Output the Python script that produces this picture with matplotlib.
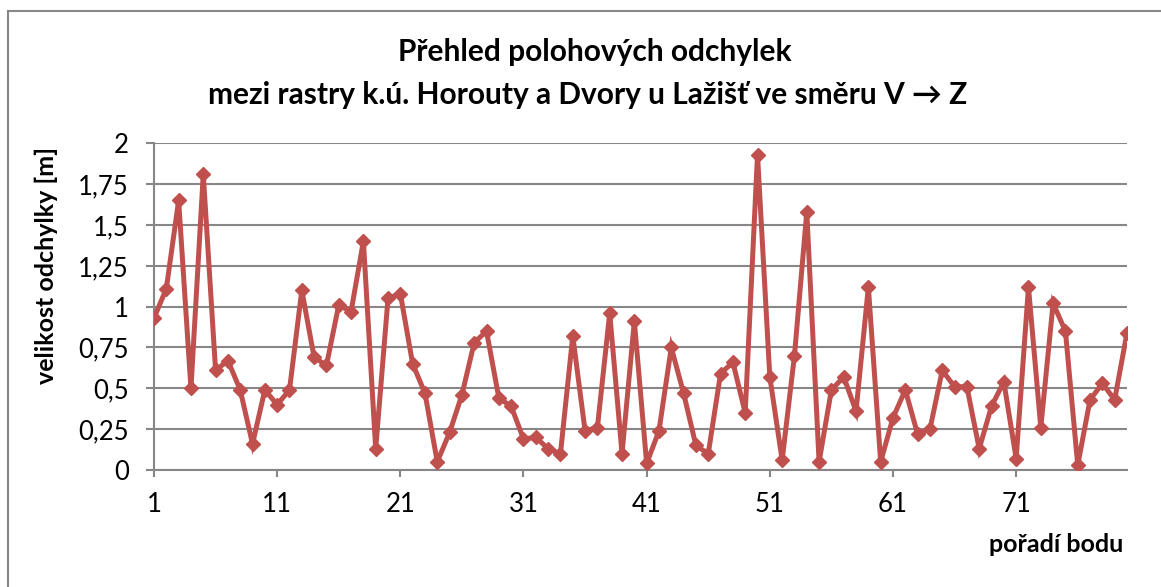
import numpy as np
import matplotlib
matplotlib.use("Agg")
from matplotlib import pyplot as plt
from matplotlib.lines import Line2D

plt.rcParams["font.family"] = ["Lato", "DejaVu Sans"]

# values
odchylky = [
    0.93, 1.11, 1.65, 0.50, 1.81, 0.61, 0.67, 0.49, 0.16, 0.49,
    0.40, 0.49, 1.10, 0.69, 0.64, 1.01, 0.97, 1.40, 0.13, 1.05,
    1.08, 0.65, 0.47, 0.05, 0.23, 0.46, 0.78, 0.85, 0.44, 0.39,
    0.19, 0.20, 0.13, 0.10, 0.82, 0.24, 0.26, 0.96, 0.10, 0.91,
    0.04, 0.24, 0.75, 0.47, 0.15, 0.10, 0.59, 0.66, 0.35, 1.93,
    0.57, 0.06, 0.70, 1.58, 0.05, 0.49, 0.57, 0.36, 1.12, 0.05,
    0.32, 0.49, 0.22, 0.25, 0.61, 0.51, 0.51, 0.13, 0.39, 0.54,
    0.07, 1.12, 0.26, 1.02, 0.85, 0.03, 0.43, 0.53, 0.43, 0.84,
]
body = np.arange(1, len(odchylky) + 1)
x_popisky = list(range(1, 72, 10))
y_hodnoty = [0, 0.25, 0.5, 0.75, 1, 1.25, 1.5, 1.75, 2]
y_popisky = ["0", "0,25", "0,5", "0,75", "1", "1,25", "1,5", "1,75", "2"]

W, H = 1161, 587
fig = plt.figure(figsize=(W / 100, H / 100), dpi=100)
ax = fig.add_axes([154 / W, (H - 470) / H, (1127 - 154) / W, (470 - 143.3) / H])

seda = "#878787"
cervena = "#C0504D"

ax.plot(body, odchylky, color=cervena, lw=3.6, marker="D", ms=7,
        mec=cervena, mfc=cervena, solid_joinstyle="miter", zorder=3)

ax.set_xlim(1, len(odchylky))
ax.set_ylim(0, 2)
ax.set_xticks(x_popisky)
ax.set_xticklabels([str(v) for v in x_popisky])
ax.set_yticks(y_hodnoty)
ax.set_yticklabels(y_popisky)

ax.grid(axis="y", color=seda, lw=1.5)
ax.set_axisbelow(True)
for s in ["top", "right"]:
    ax.spines[s].set_visible(False)
for s in ["left", "bottom"]:
    ax.spines[s].set_color(seda)
    ax.spines[s].set_linewidth(1.5)

ax.tick_params(axis="x", direction="out", length=5, width=1.5, color=seda,
               labelsize=18.5, pad=11, labelcolor="black")
ax.tick_params(axis="y", direction="out", length=6, width=1.5, color=seda,
               labelsize=18.5, pad=12, labelcolor="black")

fig.text(595 / W, 1 - 52 / H, "Přehled polohových odchylek", ha="center",
         va="center", fontsize=21.5, fontweight="bold")
fig.text(588 / W, 1 - 95 / H, "mezi rastry k.ú. Horouty a Dvory u Lažišť ve směru V → Z",
         ha="center", va="center", fontsize=21.5, fontweight="bold",
         family=["Lato", "DejaVu Sans"])
fig.text(46 / W, 1 - 265 / H, "velikost odchylky [m]", rotation=90,
         ha="center", va="center", fontsize=18, fontweight="bold")
fig.text(1123 / W, 1 - 545 / H, "pořadí bodu", ha="right", va="center",
         fontsize=18, fontweight="bold")

# outer chart border (only left and top edge are visible in the crop)
fig.add_artist(Line2D([8 / W, 8 / W], [0, 1 - 11 / H], color=seda, lw=1.5,
                      transform=fig.transFigure))
fig.add_artist(Line2D([8 / W, 1], [1 - 11 / H, 1 - 11 / H], color=seda, lw=1.5,
                      transform=fig.transFigure))

plt.savefig("out.png", dpi=100)
